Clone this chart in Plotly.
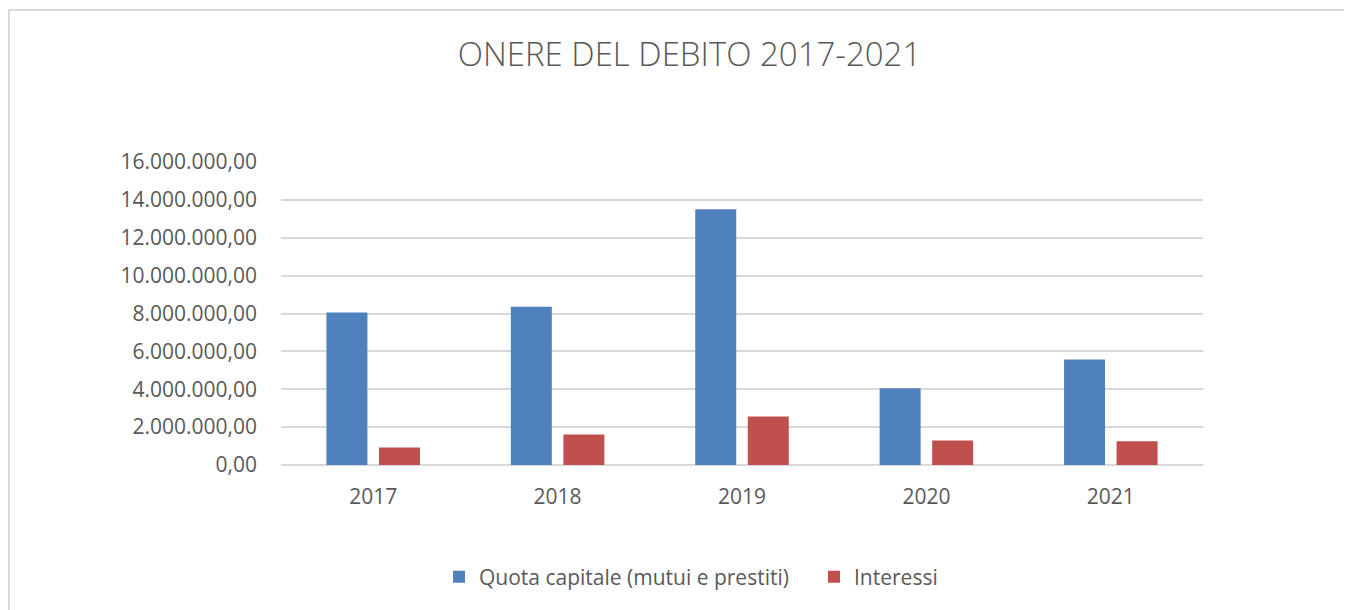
import plotly.graph_objects as go

years = ["2017", "2018", "2019", "2020", "2021"]
quota_capitale = [8050000, 8350000, 13510000, 4050000, 5570000]
interessi = [920000, 1610000, 2560000, 1290000, 1250000]

y_ticks = [0, 2000000, 4000000, 6000000, 8000000, 10000000, 12000000, 14000000, 16000000]

TEXT = "#595959"
GRID = "#D9D9D9"
FONT = "Open Sans"

fig = go.Figure()
fig.add_trace(go.Bar(x=years, y=quota_capitale, name="Quota capitale (mutui e prestiti)",
                     marker=dict(color="#4F81BD", line=dict(width=0))))
fig.add_trace(go.Bar(x=years, y=interessi, name="Interessi",
                     marker=dict(color="#C0504D", line=dict(width=0))))

# page is rendered with an 8px body margin: work in page pixels, convert to figure pixels
OFF = 8
W, H = 1352 - OFF, 610 - OFF
ml, mt = 281 - OFF, 162 - OFF
mr, mb = W - (1203 - OFF), H - (465 - OFF)
pw, ph = W - ml - mr, H - mt - mb

def px_to_paper_x(px):
    return (px - OFF - ml) / pw

def px_to_paper_y(py):
    return (H - mb - (py - OFF)) / ph

fig.update_layout(
    width=W, height=H,
    margin=dict(l=ml, r=mr, t=mt, b=mb, pad=0),
    paper_bgcolor="white", plot_bgcolor="white",
    separators=",.",
    barmode="group", bargap=0.43, bargroupgap=0.22,
    font=dict(family=FONT, color=TEXT, size=21),
    title=dict(text="ONERE DEL DEBITO 2017-2021", x=(689.5 - OFF) / W, xref="container", xanchor="center",
               y=1 - (54 - OFF) / H, yref="container", yanchor="middle",
               font=dict(family=FONT, size=33, color=TEXT, weight=300)),
    showlegend=True,
    legend=dict(orientation="h", x=px_to_paper_x(439), xanchor="left",
                y=px_to_paper_y(577), yanchor="middle",
                font=dict(family=FONT, size=21, color=TEXT),
                entrywidth=330, entrywidthmode="pixels",
                traceorder="normal"),
    xaxis=dict(showgrid=False, showline=False, ticks="", ticklabelstandoff=17,
               tickfont=dict(family=FONT, size=21, color=TEXT)),
    yaxis=dict(range=[0, 16000000], tickvals=y_ticks, tickformat=",.2f",
               showgrid=True, gridcolor=GRID, gridwidth=1.5,
               zeroline=True, zerolinecolor=GRID, zerolinewidth=1.5,
               showline=False, ticks="", ticklabelstandoff=23,
               tickfont=dict(family=FONT, size=21, color=TEXT)),
    shapes=[
        dict(type="line", xref="paper", yref="paper",
             x0=px_to_paper_x(8), x1=px_to_paper_x(1370), y0=px_to_paper_y(10), y1=px_to_paper_y(10),
             line=dict(color=GRID, width=2)),
        dict(type="line", xref="paper", yref="paper",
             x0=px_to_paper_x(9), x1=px_to_paper_x(9), y0=px_to_paper_y(10), y1=px_to_paper_y(630),
             line=dict(color=GRID, width=2)),
    ],
)

fig.write_html("out.html")
